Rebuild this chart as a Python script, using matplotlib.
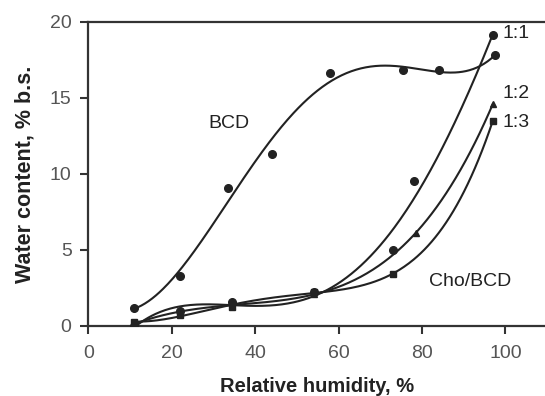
import matplotlib.pyplot as plt
import numpy as np

plt.rcParams['font.family'] = ['Liberation Sans', 'DejaVu Sans']

# BCD alone
rh_bcd = [11, 22, 33.5, 44, 58, 75.5, 84, 97.5]
wc_bcd = [1.2, 3.3, 9.1, 11.3, 16.6, 16.8, 16.8, 17.8]

# Cho/BCD ratios
rh_11 = [11, 22, 34.5, 54, 73, 78, 97]
wc_11 = [0.0, 1.0, 1.55, 2.2, 5.0, 9.5, 19.1]
rh_12 = [11, 22, 34.5, 54, 78.5, 97]
wc_12 = [0.1, 1.0, 1.3, 2.1, 6.1, 14.6]
rh_13 = [11, 22, 34.5, 54, 73, 97]
wc_13 = [0.25, 0.75, 1.25, 2.25, 3.4, 13.5]

x_ticks = [0, 20, 40, 60, 80, 100]
y_ticks = [0, 5, 10, 15, 20]

ink = '#222222'
grey = '#555555'


def fit_curve(ax, x, y, deg):
    # smooth trend line like the original figure
    c = np.polyfit(x, y, deg)
    xs = np.linspace(min(x), max(x), 300)
    ax.plot(xs, np.polyval(c, xs), color=ink, lw=1.5, zorder=2)


fig = plt.figure(figsize=(5.45, 3.96), dpi=100)
ax = fig.add_axes([0.162, 0.177, 0.838, 0.768])

fit_curve(ax, rh_bcd, wc_bcd, 5)
fit_curve(ax, rh_11, wc_11, 4)
fit_curve(ax, rh_12, wc_12, 4)
fit_curve(ax, rh_13, wc_13, 4)

ax.plot(rh_bcd, wc_bcd, 'o', color=ink, ms=5.5, zorder=3)
ax.plot(rh_11, wc_11, 'o', color=ink, ms=5.5, zorder=3)
ax.plot(rh_12, wc_12, '^', color=ink, ms=5, zorder=3)
ax.plot(rh_13, wc_13, 's', color=ink, ms=5, zorder=4)

ax.text(33.8, 13.3, 'BCD', fontsize=14, color=ink, ha='center', va='center')
ax.text(91.6, 2.9, 'Cho/BCD', fontsize=14, color=ink, ha='center', va='center')
ax.text(99.2, 19.2, '1:1', fontsize=14, color=ink, va='center')
ax.text(99.2, 15.3, '1:2', fontsize=14, color=ink, va='center')
ax.text(99.2, 13.4, '1:3', fontsize=14, color=ink, va='center')

ax.set_xlim(0, 109.5)
ax.set_ylim(0, 20)
ax.set_xticks(x_ticks)
ax.set_yticks(y_ticks)
ax.tick_params(direction='out', length=6, width=1.5, colors='#333333',
               labelcolor=grey, labelsize=14)
ax.tick_params(axis='x', pad=8)
ax.tick_params(axis='y', pad=6)
for s in ['left', 'bottom', 'top']:
    ax.spines[s].set_linewidth(1.6)
    ax.spines[s].set_color('#333333')
ax.spines['right'].set_visible(False)

ax.set_xlabel('Relative humidity, %', fontsize=14.5, fontweight='bold', color=ink, labelpad=10.5)
ax.set_ylabel('Water content, % b.s.', fontsize=15.5, fontweight='bold', color=ink, labelpad=10)

fig.savefig('out.png', dpi=100)
